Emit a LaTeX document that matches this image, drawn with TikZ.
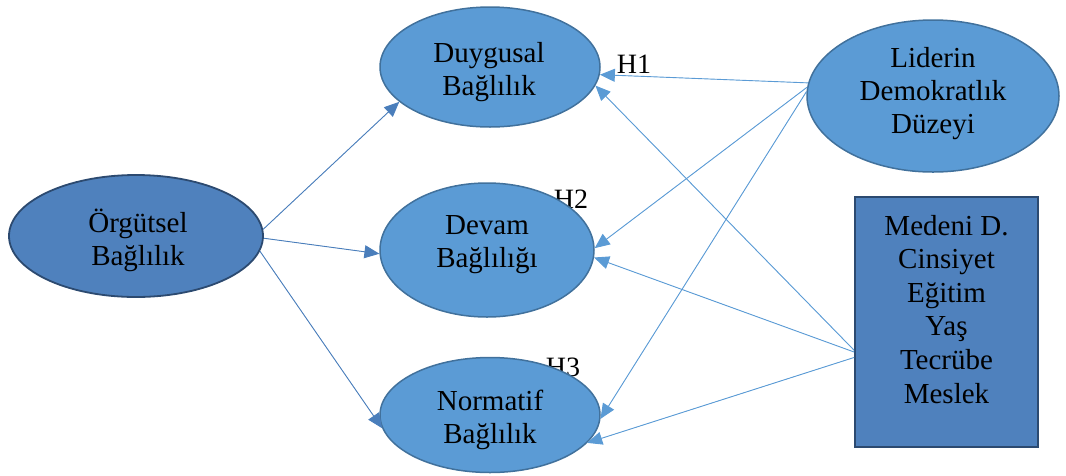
\documentclass[tikz,border=0pt]{standalone}
\usepackage{fontspec}
\setmainfont{Liberation Serif}
\usetikzlibrary{shapes.geometric,arrows.meta}
\definecolor{lightfill}{HTML}{5B9BD5}
\definecolor{lightborder}{HTML}{41719C}
\definecolor{darkfill}{HTML}{4F81BD}
\definecolor{darkborder}{HTML}{2C4A70}
\definecolor{arrowdark}{HTML}{4A7EBB}
\definecolor{arrowlight}{HTML}{5B9BD5}
\tikzset{
  txt/.style={font=\fontsize{29}{33}\selectfont, align=center, inner sep=0pt, anchor=base},
  lightell/.style={ellipse, fill=lightfill, draw=lightborder, line width=1.5pt, inner sep=0pt},
  darkell/.style={ellipse, fill=darkfill, draw=darkborder, line width=1.8pt, inner sep=0pt},
  boxnode/.style={rectangle, fill=darkfill, draw=darkborder, line width=1.8pt, inner sep=0pt},
  hlabel/.style={font=\fontsize{28}{30}\selectfont, inner sep=0pt},
  arr/.style={line width=0.9pt, -{Triangle[length=15pt,width=13pt]}},
  arrd/.style={arr, draw=arrowdark, fill=arrowdark},
  arrl/.style={arr, draw=arrowlight, fill=arrowlight}
}
\begin{document}
\begin{tikzpicture}[x=1pt,y=-1pt]
\useasboundingbox (0,0) rectangle (1066,475);
% hypothesis labels (behind ellipses)
\node[hlabel] (h1) at (634,64) {H1};
\node[hlabel] (h2) at (571,199) {H2};
\node[hlabel] (h3) at (563,367) {H3};
% shapes
\node[darkell, minimum width=254pt, minimum height=122pt] (org) at (136,236) {};
\node[lightell, minimum width=220pt, minimum height=120pt] (duy) at (490,67) {};
\node[lightell, minimum width=214pt, minimum height=134pt] (dev) at (487,250) {};
\node[lightell, minimum width=220pt, minimum height=115pt] (nor) at (490,415) {};
\node[lightell, minimum width=252pt, minimum height=152pt] (lid) at (933,96) {};
\node[boxnode, minimum width=183pt, minimum height=250pt] (med) at (946.5,322) {};
% texts (anchored at the baseline of the last line)
\node[txt] (orgtxt) at (138,265) {Örgütsel\\Bağlılık};
\node[txt] (duytxt) at (489,95) {Duygusal\\Bağlılık};
\node[txt] (devtxt) at (487,267) {Devam\\Bağlılığı};
\node[txt] (nortxt) at (490,443) {Normatif\\Bağlılık};
\node[txt] (lidtxt) at (933,133) {Liderin\\Demokratlık\\Düzeyi};
\node[txt, font=\fontsize{29}{33.6}\selectfont] (medtxt) at (946.5,403) {Medeni D.\\Cinsiyet\\Eğitim\\Yaş\\Tecrübe\\Meslek};
% connectors
\draw[arrd] (org.3) -- (duy.201);
\draw[arrd] (org.-1) -- (dev.182);
\draw[arrd] (org.-7) -- (nor.187);
\draw[arrl] (lid.174) -- (duy.-4);
\draw[arrl] (lid.176) -- (dev.1);
\draw[arrl] (lid.178) -- (nor.-2);
\draw[arrl] (med.197) -- (duy.-10);
\draw[arrl] (med.198) -- (dev.-4);
\draw[arrl] (med.201) -- (nor.-16);
\end{tikzpicture}
\end{document}
